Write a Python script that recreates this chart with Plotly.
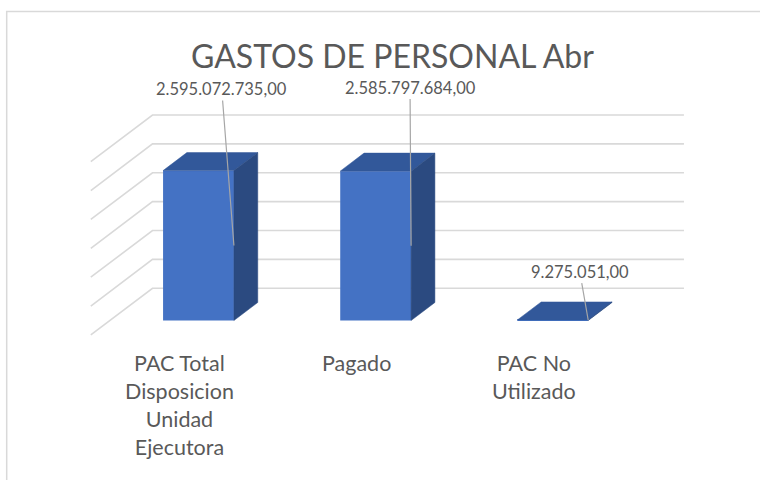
import plotly.graph_objects as go

# ---------------- data ----------------
categories = ["PAC Total<br>Disposicion<br>Unidad<br>Ejecutora", "Pagado", "PAC No<br>Utilizado"]
values = [2595072735.00, 2585797684.00, 9275051.00]
tick_values = [0, 500000000, 1000000000, 1500000000, 2000000000, 2500000000, 3000000000]
title_text = "GASTOS DE PERSONAL Abr"

# ---------------- pseudo-3D projection settings ----------------
DF = 0.31      # depth of bar front face (0 = floor front edge, 1 = back wall)
DB = 0.696     # depth of bar back face
DC = 0.3483    # x shift (category units) per unit depth
DV = 8.085e8   # y shift (value units) per unit depth
HALF_W = 0.2   # half bar width in category units


def proj(c, v, d):
    return c + (d - DF) * DC, v + (d - DF) * DV


def fmt(v):
    s = f"{v:,.2f}"
    return s.replace(",", "X").replace(".", ",").replace("X", ".")


TXT = "#595959"
FONT = "Lato"
GRID = "#D9D9D9"
FRONT = "#4472C4"
TOP = "#32589A"
SIDE = "#2B4A80"

fig = go.Figure()

# gridlines: back wall + left-side diagonals (bottom subplot layer)
gx, gy = [], []
for t in tick_values:
    x0, y0 = proj(-0.5, t, 0)
    x1, y1 = proj(-0.5, t, 1)
    x2, y2 = proj(2.5, t, 1)
    gx += [x0, x1, x2, None]
    gy += [y0, y1, y2, None]
fig.add_trace(go.Scatter(x=gx, y=gy, mode="lines", line=dict(color=GRID, width=1.6),
                         hoverinfo="skip", showlegend=False, xaxis="x", yaxis="y"))

# bar front faces (overlay subplot, above gridlines)
fig.add_trace(go.Bar(x=list(range(len(values))), y=values, width=2 * HALF_W,
                     marker=dict(color=FRONT, line=dict(width=0)), showlegend=False,
                     hoverinfo="skip", xaxis="x2", yaxis="y2"))

# bar top and side faces
for i, v in enumerate(values):
    c = i
    pts = [proj(c - HALF_W, v, DF), proj(c + HALF_W, v, DF), proj(c + HALF_W, v, DB),
           proj(c - HALF_W, v, DB), proj(c - HALF_W, v, DF)]
    fig.add_trace(go.Scatter(x=[p[0] for p in pts], y=[p[1] for p in pts], mode="lines",
                             fill="toself", fillcolor=TOP, line=dict(color=TOP, width=0.5),
                             hoverinfo="skip", showlegend=False, xaxis="x2", yaxis="y2"))
    pts = [proj(c + HALF_W, 0, DF), proj(c + HALF_W, v, DF), proj(c + HALF_W, v, DB),
           proj(c + HALF_W, 0, DB), proj(c + HALF_W, 0, DF)]
    fig.add_trace(go.Scatter(x=[p[0] for p in pts], y=[p[1] for p in pts], mode="lines",
                             fill="toself", fillcolor=SIDE, line=dict(color=SIDE, width=0.5),
                             hoverinfo="skip", showlegend=False, xaxis="x2", yaxis="y2"))

# data labels with leader lines (label offsets are layout choices)
label_offsets = [(0.131, 4.008e9), (1.194, 4.034e9), (2.152, 0.845e9)]
for i, v in enumerate(values):
    ax, ay = label_offsets[i]
    fig.add_annotation(x=i + HALF_W, y=v / 2, xref="x", yref="y",
                       ax=ax, ay=ay, axref="x", ayref="y",
                       text=fmt(v), showarrow=True, arrowhead=0, arrowwidth=1.2,
                       arrowcolor="#A6A6A6", standoff=0,
                       font=dict(family=FONT, size=16.5, color=TXT))

# category labels at the floor front edge
for i, cat in enumerate(categories):
    x, y = proj(i, 0, 0)
    fig.add_annotation(x=x, y=y, xref="x", yref="y", text=cat, showarrow=False,
                       xanchor="center", yanchor="top", yshift=-13, align="center",
                       font=dict(family=FONT, size=21.5, color=TXT))

# title
fig.add_annotation(x=392 / 760, y=1 - 55 / 480, xref="paper", yref="paper",
                   text=title_text, showarrow=False, xanchor="center", yanchor="middle",
                   font=dict(family=FONT, size=32, color=TXT))

# chart border
fig.add_shape(type="rect", xref="paper", yref="paper", x0=6.7 / 760, x1=1.05,
              y0=-0.05, y1=1 - 11.5 / 480, line=dict(color=GRID, width=1.5))

XR = [-1.1205, 3.1696]
YR = [-2.7614e9, 5.5488e9]
axis_style = dict(showgrid=False, zeroline=False, showticklabels=False, fixedrange=True)
fig.update_layout(
    width=760, height=480,
    margin=dict(l=0, r=0, t=0, b=0),
    paper_bgcolor="white", plot_bgcolor="white",
    xaxis=dict(range=XR, **axis_style),
    yaxis=dict(range=YR, **axis_style),
    xaxis2=dict(range=XR, overlaying="x", **axis_style),
    yaxis2=dict(range=YR, overlaying="y", **axis_style),
    showlegend=False,
)

fig.write_html("out.html", config={"displayModeBar": False},
               post_script="document.body.style.margin='0';")
